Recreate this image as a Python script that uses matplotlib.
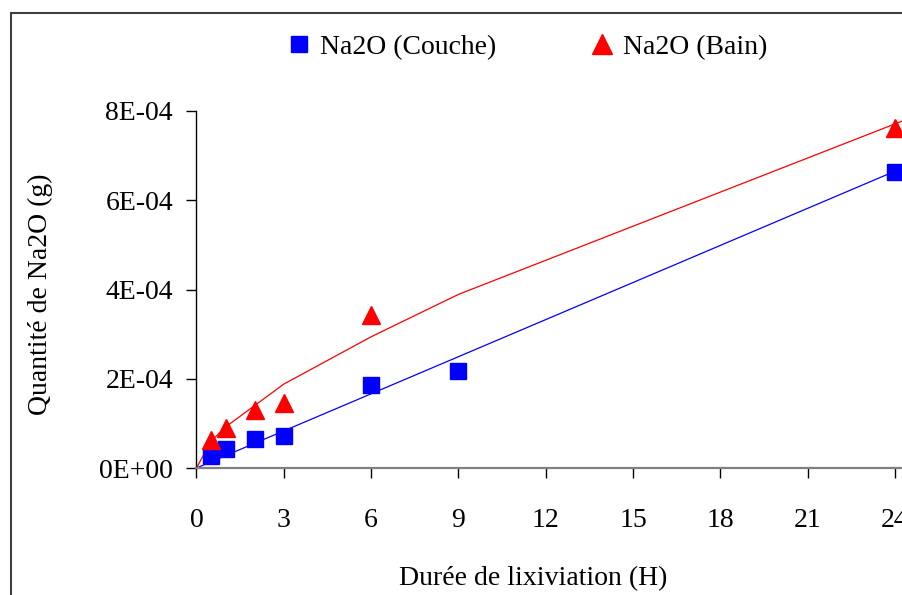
import matplotlib
matplotlib.use('Agg')
import matplotlib.pyplot as plt
from matplotlib.patches import Rectangle
from matplotlib.ticker import FuncFormatter

plt.rcParams['font.family'] = ['Liberation Serif', 'DejaVu Serif']

# Measured data
hours_couche = [0.5, 1, 2, 3, 6, 9, 24]
na2o_couche = [2.8e-5, 4.2e-5, 6.4e-5, 7.1e-5, 1.86e-4, 2.17e-4, 6.63e-4]
hours_bain = [0.5, 1, 2, 3, 6, 24]
na2o_bain = [6.2e-5, 8.9e-5, 1.30e-4, 1.45e-4, 3.43e-4, 7.62e-4]

# Fitted curves
fit_couche_t = [0, 24]
fit_couche = [0, 6.65e-4]
fit_bain_t = [0, 0.5, 1, 2, 3, 6, 9, 24, 25]
fit_bain = [0, 0.60e-4, 0.92e-4, 1.40e-4, 1.88e-4, 2.94e-4, 3.89e-4, 7.71e-4, 7.97e-4]

x_ticks = [0, 3, 6, 9, 12, 15, 18, 21, 24]
y_ticks = [0, 2e-4, 4e-4, 6e-4, 8e-4]

W, H = 903, 595
fig = plt.figure(figsize=(W / 100, H / 100), dpi=100)
fig.patch.set_facecolor('white')

px_per_h = 29.1
ax_left, ax_bottom, ax_top = 196.5, 468, 111
xmax = 24.5
ax = fig.add_axes([ax_left / W, (H - ax_bottom) / H, xmax * px_per_h / W, (ax_bottom - ax_top) / H])

ax.plot(fit_couche_t, fit_couche, color='#0000FF', lw=0.9)
ax.plot(fit_bain_t, fit_bain, color='#FF0000', lw=0.9)
ax.plot(hours_couche, na2o_couche, linestyle='none', marker='s', markersize=11,
        color='#0000FF', markeredgecolor='#0000FF', label='Na2O (Couche)', clip_on=False)
ax.plot(hours_bain, na2o_bain, linestyle='none', marker='^', markersize=13,
        color='#FF0000', markeredgecolor='#FF0000', label='Na2O (Bain)', clip_on=False)

ax.set_xlim(0, xmax)
ax.set_ylim(0, 8e-4)
ax.set_xticks(x_ticks)
ax.set_yticks(y_ticks)
ax.yaxis.set_major_formatter(FuncFormatter(lambda v, p: '{:.0E}'.format(v)))

for s in ['top', 'right']:
    ax.spines[s].set_visible(False)
ax.spines['left'].set_color('black')
ax.spines['left'].set_linewidth(1.0)
ax.spines['bottom'].set_color('#808080')
ax.spines['bottom'].set_linewidth(1.6)

ax.tick_params(axis='x', direction='out', length=7, width=1, color='black',
               labelsize=20, pad=22)
ax.tick_params(axis='y', direction='out', length=7, width=1, color='black',
               labelsize=20, pad=10)

ax.set_xlabel('Durée de lixiviation (H)', fontsize=20)
ax.set_ylabel('Quantité de Na2O (g)', fontsize=20)
axw = xmax * px_per_h
axh = ax_bottom - ax_top
ax.xaxis.set_label_coords((533 - ax_left) / axw, (ax_bottom - 566) / axh)
ax.yaxis.set_label_coords((53 - ax_left) / axw, (ax_bottom - 294) / axh)

leg = fig.legend(loc='center left', bbox_to_anchor=(288 / W, 1 - 47 / H), ncol=2,
                 frameon=False, fontsize=20, handlelength=0.8, handletextpad=0.35,
                 columnspacing=3.4, borderpad=0, borderaxespad=0, numpoints=1,
                 markerscale=1.1)

fig.patches.append(Rectangle((11 / W, -0.1), 1.2, 1 - 13 / H + 0.1, transform=fig.transFigure,
                             fill=False, edgecolor='#404040', lw=1.5))

fig.savefig('out.png', dpi=100)
